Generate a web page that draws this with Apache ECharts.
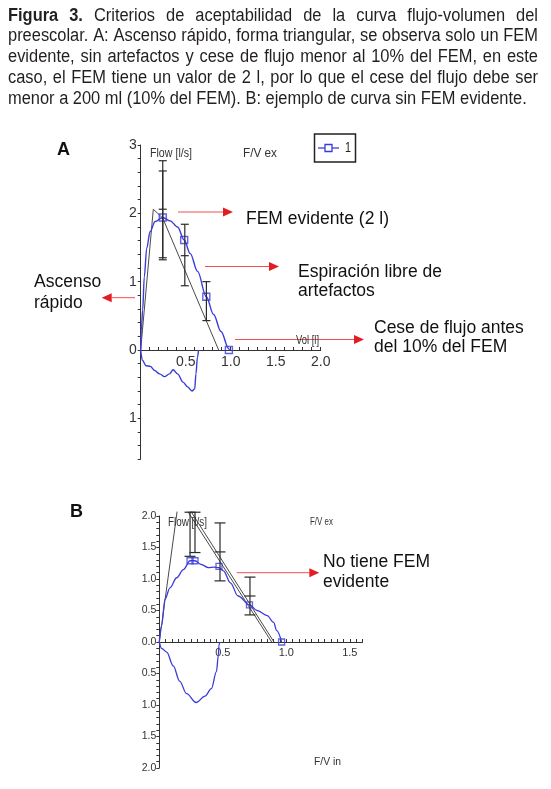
<!DOCTYPE html>
<html><head><meta charset="utf-8">
<script src="https://cdn.jsdelivr.net/npm/echarts@6/dist/echarts.min.js"></script>
<style>html,body{margin:0;padding:0;background:#fff}#c{width:551px;height:789px}</style>
</head><body><div id="c"></div>
<script>
const NARROW = '"Liberation Sans Narrow","Liberation Sans",Arial,sans-serif';
const SANS = '"Liberation Sans",Arial,Helvetica,sans-serif';
const BLUE = '#3b3bd9';
const GRAY = '#4a4a4a';
const AXIS = '#333';

// ---------- caption ----------
const captionLines = [
  "Figura 3. Criterios de aceptabilidad de la curva flujo-volumen del",
  "preescolar. A: Ascenso rápido, forma triangular, se observa solo un FEM",
  "evidente, sin artefactos y cese de flujo menor al 10% del FEM, en este",
  "caso, el FEM tiene un valor de 2 l, por lo que el cese del flujo debe ser",
  "menor a 200 ml (10% del FEM). B: ejemplo de curva sin FEM evidente."
];

// ---------- panel A data (volume l, flow l/s) ----------
const aExpiration = [[0,0],[0.007,0.29],[0.022,0.59],[0.04,1.07],[0.067,1.49],[0.104,1.73],[0.16,1.88],[0.245,1.94],[0.327,1.89],[0.41,1.80],[0.483,1.61],[0.55,1.41],[0.632,1.15],[0.729,0.78],[0.81,0.52],[0.892,0.27],[0.978,0.02],[0.985,0]];
const aInspiration = [[0,0],[0.018,-0.15],[0.06,-0.23],[0.107,-0.24],[0.154,-0.30],[0.21,-0.35],[0.265,-0.39],[0.32,-0.35],[0.36,-0.29],[0.41,-0.35],[0.47,-0.47],[0.52,-0.54],[0.57,-0.60],[0.60,-0.57],[0.614,-0.35],[0.63,-0.11],[0.643,0]];
const aMarkers = [[0.245,1.94],[0.483,1.61],[0.729,0.78],[0.98,0]];
const aTriangle = [[0,0],[0.14,2.06],[0.245,1.93],[0.866,0]];
const aErrX = [0.245,0.245,0.49,0.73];
const aErrLow = [1.32,1.35,0.94,0.43];
const aErrHigh = [2.77,2.62,1.84,1.0];
const aErrMid = [2.06,null,1.38,null];
const aXLabels = [0.5,1.0,1.5,2.0];
const aYLabels = [-1,0,1,2,3];

// ---------- panel B data ----------
const bExpiration = [[0,0],[0.018,0.26],[0.045,0.68],[0.084,0.86],[0.137,1.02],[0.19,1.15],[0.242,1.29],[0.281,1.29],[0.33,1.23],[0.387,1.18],[0.43,1.19],[0.47,1.18],[0.505,1.13],[0.56,0.94],[0.62,0.73],[0.71,0.59],[0.77,0.50],[0.85,0.42],[0.90,0.31],[0.925,0.18],[0.963,0]];
const bInspiration = [[0,0],[0.018,-0.10],[0.058,-0.16],[0.11,-0.38],[0.16,-0.62],[0.215,-0.82],[0.29,-0.96],[0.36,-0.86],[0.41,-0.74],[0.45,-0.47],[0.465,-0.21],[0.47,-0.05],[0.476,0]];
const bMarkers = [[0.242,1.29],[0.281,1.29],[0.47,1.20],[0.71,0.59],[0.963,0]];
const bRise = [[0,0],[0.14,2.07]];
const bFall1 = [[0.225,2.07],[0.885,0]];
const bFall2 = [[0.25,2.07],[0.903,0]];
const bErrX = [0.242,0.281,0.478,0.714];
const bErrLow = [1.36,1.42,0.97,0.43];
const bErrHigh = [2.06,2.06,1.89,1.03];
const bErrMid = [null,null,1.43,0.73];
const bXLabels = [0.5,1.0,1.5];
const bYLabels = [-2,-1.5,-1,-0.5,0,0.5,1,1.5,2];

// axis ranges
const aYRange = [-1.6, 3], bYRange = [-2, 2];
const gridA = {left:140.7, top:145, width:180, height:314.3};
const gridB = {left:159.3, top:516, width:203.2, height:252};
// distance of the zero line above the grid bottom
const zeroOffA = -(0 - aYRange[0]) / (aYRange[1] - aYRange[0]) * gridA.height;
const zeroOffB = -(0 - bYRange[0]) / (bYRange[1] - bYRange[0]) * gridB.height;

// ---------- helpers ----------
const ctx = document.createElement('canvas').getContext('2d');
function tw(text, font){ ctx.font = font; return ctx.measureText(text).width; }
const near = (a,b)=>Math.abs(a-b)<1e-6;
const graphics = [];
function txt(text, x, yMid, font, fill, opts){
  opts = opts || {};
  const el = {type:'text', x:x, y:yMid, z:10, style:{text:text, font:font, fill:fill||'#111', verticalAlign:'middle', textVerticalAlign:'middle', align:opts.align||'left', textAlign:opts.align||'left'}};
  if (opts.width){ el.scaleX = opts.width / tw(text, font); }
  graphics.push(el);
}
function arrow(x1, tip, y){
  const dir = tip > x1 ? 1 : -1;
  const base = tip - dir*10;
  graphics.push({type:'line', z:9, shape:{x1:x1,y1:y,x2:base,y2:y}, style:{stroke:'#f05050', lineWidth:1}});
  graphics.push({type:'polygon', z:9, shape:{points:[[tip,y],[base,y-4.5],[base,y+4.5]]}, style:{fill:'#e31b23'}});
}

// caption, justified
(function(){
  const size = 18;
  const f = size+'px '+NARROW, fb = 'bold '+size+'px '+NARROW;
  const L = 8, R = 538;
  const sx = (526.7 - L) / tw(captionLines[4], f);
  captionLines.forEach((line, i) => {
    const yMid = 15.6 + i*20.9;
    const words = line.split(' ');
    const fonts = words.map((w,j)=> (i===0 && j<2) ? fb : f);
    const widths = words.map((w,j)=> tw(w, fonts[j])*sx);
    const total = widths.reduce((a,b)=>a+b,0);
    const gap = i < captionLines.length-1 ? (R-L-total)/(words.length-1) : tw(' ', f)*sx;
    let x = L;
    words.forEach((w,j)=>{
      graphics.push({type:'text', x:x, y:yMid, scaleX:sx, z:10, style:{text:w, font:fonts[j], fill:'#231f20', verticalAlign:'middle', textVerticalAlign:'middle'}});
      x += widths[j] + gap;
    });
  });
})();

// panel letters
txt('A', 57, 150, 'bold 18px '+SANS, '#111');
txt('B', 70, 512, 'bold 18px '+SANS, '#111');

// panel A small labels
txt('Flow [l/s]', 150, 153.5, '13px '+NARROW, '#333', {width:42});
txt('F/V ex', 243, 153.5, '13px '+NARROW, '#333', {width:34});
txt('Vol [l]', 296, 340, '13px '+NARROW, '#333', {width:23});
// legend box A
graphics.push({type:'rect', z:10, shape:{x:314.5,y:134,width:41,height:28}, style:{fill:'#fff', stroke:'#222', lineWidth:1.5}});
graphics.push({type:'line', z:11, shape:{x1:318,y1:148,x2:339,y2:148}, style:{stroke:BLUE, lineWidth:1.3}});
graphics.push({type:'rect', z:12, shape:{x:325,y:144.5,width:7,height:7}, style:{fill:'#fff', stroke:BLUE, lineWidth:1.3}});
txt('1', 345, 148, '15px '+NARROW, '#222', {width:6});

// annotations A
const AF = '17.5px '+SANS;
txt('FEM evidente (2 l)', 246, 219, AF);
arrow(178, 233, 212);
txt('Espiración libre de', 298, 272.2, AF);
txt('artefactos', 298, 291.6, AF);
arrow(205, 279, 266.5);
txt('Ascenso', 34, 282.2, AF);
txt('rápido', 34, 303.2, AF);
arrow(135, 101.7, 297.7);
txt('Cese de flujo antes', 374, 328.2, AF);
txt('del 10% del FEM', 374, 347.4, AF);
arrow(235, 364, 339.5);

// panel B labels
txt('Flow [l/s]', 168, 523, '12px '+NARROW, '#333', {width:39});
txt('F/V ex', 310, 522, '11px '+NARROW, '#333', {width:23});
txt('F/V in', 314, 762, '11px '+NARROW, '#333', {width:27});
txt('No tiene FEM', 323, 562.2, AF);
txt('evidente', 323, 582.2, AF);
arrow(236.7, 319.3, 572.7);

// ---------- error bar renderer ----------
function errRender(hw){
  return function(params, api){
    const x = api.value(0), lo = api.value(1), hi = api.value(2), mid = api.value(3);
    const pLo = api.coord([x, lo]), pHi = api.coord([x, hi]);
    const st = {stroke:'#2a2a2a', lineWidth:1.2};
    const ch = [
      {type:'line', shape:{x1:pLo[0],y1:pLo[1],x2:pHi[0],y2:pHi[1]}, style:st},
      {type:'line', shape:{x1:pLo[0]-hw,y1:pLo[1],x2:pLo[0]+hw,y2:pLo[1]}, style:st},
      {type:'line', shape:{x1:pHi[0]-hw,y1:pHi[1],x2:pHi[0]+hw,y2:pHi[1]}, style:st}
    ];
    if (isFinite(mid) && mid !== null){
      const pM = api.coord([x, mid]);
      ch.push({type:'line', shape:{x1:pM[0]-hw,y1:pM[1],x2:pM[0]+hw,y2:pM[1]}, style:st});
    }
    return {type:'group', children:ch};
  };
}
const rows = (xs, lo, hi, mid) => xs.map((x,i)=>[x, lo[i], hi[i], mid[i]===null ? NaN : mid[i]]);

const lineBase = {type:'line', symbol:'none', smooth:0.35, smoothMonotone:'x', clip:false, animation:false};

const option = {
  animation: false,
  backgroundColor: '#fff',
  grid: [gridA, gridB],
  xAxis: [
    {gridIndex:0, type:'value', min:0, max:2, interval:0.1, position:'bottom', offset:zeroOffA,
     axisLine:{onZero:false, lineStyle:{color:AXIS, width:1}},
     axisTick:{inside:true, length:3, interval:0, lineStyle:{color:AXIS}},
     axisLabel:{interval:0, margin:5, fontSize:14, fontFamily:NARROW, color:'#333',
       formatter:v => aXLabels.some(t=>near(t,v)) ? v.toFixed(1) : ''},
     splitLine:{show:false}},
    {gridIndex:1, type:'value', min:0, max:1.6, interval:0.05, position:'bottom', offset:zeroOffB,
     axisLine:{onZero:false, lineStyle:{color:AXIS, width:1}},
     axisTick:{inside:true, length:3, interval:0, lineStyle:{color:AXIS}},
     axisLabel:{interval:0, margin:5, fontSize:11, fontFamily:NARROW, color:'#333',
       formatter:v => bXLabels.some(t=>near(t,v)) ? v.toFixed(1) : ''},
     splitLine:{show:false}}
  ],
  yAxis: [
    {gridIndex:0, type:'value', min:aYRange[0], max:aYRange[1], interval:0.2,
     axisLine:{show:true, onZero:false, lineStyle:{color:AXIS, width:1}},
     axisTick:{show:true, length:3, interval:0, lineStyle:{color:AXIS}},
     axisLabel:{interval:0, margin:4, fontSize:14, fontFamily:NARROW, color:'#333',
       formatter:v => aYLabels.some(t=>near(t,v)) ? String(Math.abs(Math.round(v))) : ''},
     splitLine:{show:false}},
    {gridIndex:1, type:'value', min:bYRange[0], max:bYRange[1], interval:0.1,
     axisLine:{show:true, onZero:false, lineStyle:{color:AXIS, width:1}},
     axisTick:{show:true, length:3, interval:0, lineStyle:{color:AXIS}},
     axisLabel:{interval:0, margin:3, fontSize:10.5, fontFamily:NARROW, color:'#333',
       formatter:v => bYLabels.some(t=>near(t,v)) ? Math.abs(v).toFixed(1) : ''},
     splitLine:{show:false}}
  ],
  series: [
    // panel A
    Object.assign({}, lineBase, {name:'triA', xAxisIndex:0, yAxisIndex:0, data:aTriangle, smooth:false, lineStyle:{color:GRAY, width:1}, z:2}),
    Object.assign({}, lineBase, {name:'1', xAxisIndex:0, yAxisIndex:0, data:aExpiration, lineStyle:{color:BLUE, width:1.4}, z:3}),
    Object.assign({}, lineBase, {name:'inA', xAxisIndex:0, yAxisIndex:0, data:aInspiration, lineStyle:{color:BLUE, width:1.4}, z:3}),
    {type:'scatter', xAxisIndex:0, yAxisIndex:0, data:aMarkers, symbol:'rect', symbolSize:7, animation:false,
     itemStyle:{color:'rgba(255,255,255,0)', borderColor:BLUE, borderWidth:1.4}, z:4},
    {type:'custom', xAxisIndex:0, yAxisIndex:0, renderItem:errRender(4), data:rows(aErrX,aErrLow,aErrHigh,aErrMid), encode:{x:0, y:[1,2]}, z:5, animation:false},
    // panel B
    Object.assign({}, lineBase, {name:'riseB', xAxisIndex:1, yAxisIndex:1, data:bRise, smooth:false, lineStyle:{color:GRAY, width:1}, z:2}),
    Object.assign({}, lineBase, {name:'fallB1', xAxisIndex:1, yAxisIndex:1, data:bFall1, smooth:false, lineStyle:{color:GRAY, width:1}, z:2}),
    Object.assign({}, lineBase, {name:'fallB2', xAxisIndex:1, yAxisIndex:1, data:bFall2, smooth:false, lineStyle:{color:GRAY, width:1}, z:2}),
    Object.assign({}, lineBase, {name:'exB', xAxisIndex:1, yAxisIndex:1, data:bExpiration, lineStyle:{color:BLUE, width:1.3}, z:3}),
    Object.assign({}, lineBase, {name:'inB', xAxisIndex:1, yAxisIndex:1, data:bInspiration, lineStyle:{color:BLUE, width:1.3}, z:3}),
    {type:'scatter', xAxisIndex:1, yAxisIndex:1, data:bMarkers, symbol:'rect', symbolSize:6, animation:false,
     itemStyle:{color:'rgba(255,255,255,0)', borderColor:BLUE, borderWidth:1.3}, z:4},
    {type:'custom', xAxisIndex:1, yAxisIndex:1, renderItem:errRender(5.5), data:rows(bErrX,bErrLow,bErrHigh,bErrMid), encode:{x:0, y:[1,2]}, z:5, animation:false}
  ],
  graphic: graphics
};
const chart = echarts.init(document.getElementById('c'), null, {renderer:'canvas'});
chart.setOption(option);
</script>
</body></html>
